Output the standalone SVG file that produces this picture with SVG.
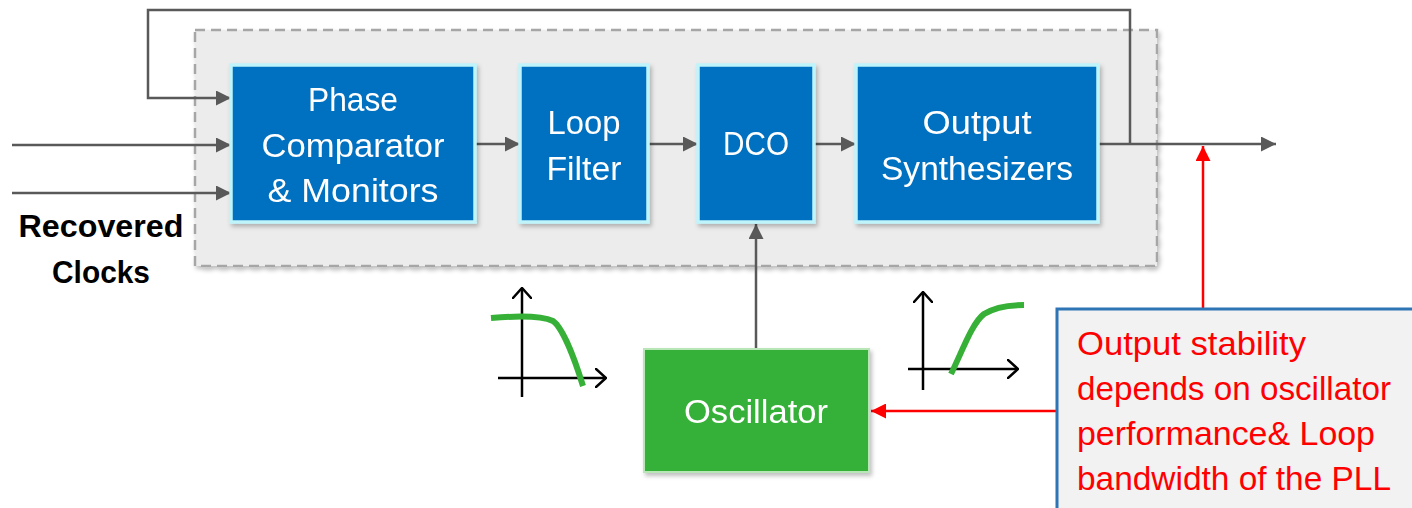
<svg xmlns="http://www.w3.org/2000/svg" width="1412" height="508" viewBox="0 0 1412 508">
  <defs>
    <filter id="shadow" x="-10%" y="-10%" width="120%" height="120%">
      <feDropShadow dx="2" dy="3" stdDeviation="2" flood-color="#000" flood-opacity="0.25"/>
    </filter>
    <marker id="arrGray" viewBox="0 0 15 15" refX="15" refY="7.5" markerWidth="15" markerHeight="15" markerUnits="userSpaceOnUse" orient="auto">
      <path d="M0,0 L15,7.5 L0,15 Z" fill="#595959"/>
    </marker>
    <marker id="arrRed" viewBox="0 0 15 15" refX="15" refY="7.5" markerWidth="15" markerHeight="15" markerUnits="userSpaceOnUse" orient="auto">
      <path d="M0,0 L15,7.5 L0,15 Z" fill="#ff0000"/>
    </marker>
    <marker id="arrOpen" viewBox="0 0 12 20" refX="11" refY="10" markerWidth="12" markerHeight="20" markerUnits="userSpaceOnUse" orient="auto">
      <path d="M0,0 L11,10 L0,20" fill="none" stroke="#000" stroke-width="2.5"/>
    </marker>
  </defs>
  <style>
    .block { fill: #0070c0; stroke: #bff4fb; stroke-width: 3.5; }
    .osc { fill: #36b037; stroke: #b9e6b7; stroke-width: 2; }
    .lbl { font-family: "Liberation Sans", Arial, sans-serif; font-size: 34px; fill: #ffffff; text-anchor: middle; }
    .wire { fill: none; stroke: #595959; stroke-width: 2.5; }
    .redwire { fill: none; stroke: #ff0000; stroke-width: 2.5; }
    .axis { fill: none; stroke: #000; stroke-width: 2.5; }
    .curve { fill: none; stroke: #36b037; stroke-width: 6; }
    .note { font-family: "Liberation Sans", Arial, sans-serif; font-size: 33px; fill: #ff0000; }
    .cap { font-family: "Liberation Sans", Arial, sans-serif; font-size: 31px; font-weight: bold; fill: #000; text-anchor: middle; }
  </style>

  <!-- PLL enclosure -->
  <rect id="pll" x="195" y="30" width="962" height="236" fill="#ececec" stroke="#a6a6a6" stroke-width="2.5" stroke-dasharray="10,6" filter="url(#shadow)"/>

  <!-- connectors -->
  <g id="connectors">
    <polyline class="wire" points="1130,144 1130,10 148,10 148,98 231,98" marker-end="url(#arrGray)"/>
    <line class="wire" x1="12" y1="145" x2="231" y2="145" marker-end="url(#arrGray)"/>
    <line class="wire" x1="12" y1="193" x2="231" y2="193" marker-end="url(#arrGray)"/>
    <line class="wire" x1="475" y1="144" x2="520" y2="144" marker-end="url(#arrGray)"/>
    <line class="wire" x1="648" y1="144" x2="698" y2="144" marker-end="url(#arrGray)"/>
    <line class="wire" x1="814" y1="144" x2="856" y2="144" marker-end="url(#arrGray)"/>
    <line class="wire" x1="1098" y1="144" x2="1276" y2="144" marker-end="url(#arrGray)"/>
    <line class="wire" x1="756" y1="349" x2="756" y2="224" marker-end="url(#arrGray)"/>
    <line class="redwire" x1="1203" y1="309" x2="1203" y2="146" marker-end="url(#arrRed)"/>
    <line class="redwire" x1="1056" y1="411" x2="871" y2="411" marker-end="url(#arrRed)"/>
  </g>

  <g id="phase-comparator" filter="url(#shadow)">
    <rect class="block" x="231" y="65" width="244" height="157"/>
    <text class="lbl" x="353" y="111" textLength="90" lengthAdjust="spacingAndGlyphs">Phase</text>
    <text class="lbl" x="353" y="157" textLength="183" lengthAdjust="spacingAndGlyphs">Comparator</text>
    <text class="lbl" x="353" y="202" textLength="171" lengthAdjust="spacingAndGlyphs">&amp; Monitors</text>
  </g>

  <g id="loop-filter" filter="url(#shadow)">
    <rect class="block" x="520" y="65" width="128" height="157"/>
    <text class="lbl" x="584" y="134" textLength="73" lengthAdjust="spacingAndGlyphs">Loop</text>
    <text class="lbl" x="584" y="180" textLength="75" lengthAdjust="spacingAndGlyphs">Filter</text>
  </g>

  <g id="dco" filter="url(#shadow)">
    <rect class="block" x="698" y="65" width="116" height="157"/>
    <text class="lbl" x="756" y="155" textLength="66" lengthAdjust="spacingAndGlyphs">DCO</text>
  </g>

  <g id="output-synthesizers" filter="url(#shadow)">
    <rect class="block" x="856" y="65" width="242" height="157"/>
    <text class="lbl" x="977" y="134" textLength="109" lengthAdjust="spacingAndGlyphs">Output</text>
    <text class="lbl" x="977" y="180" textLength="192" lengthAdjust="spacingAndGlyphs">Synthesizers</text>
  </g>

  <g id="oscillator" filter="url(#shadow)">
    <rect class="osc" x="644" y="349" width="225" height="123"/>
    <text class="lbl" x="756" y="423" textLength="144" lengthAdjust="spacingAndGlyphs">Oscillator</text>
  </g>

  <g id="recovered-clocks">
    <text class="cap" x="101" y="237" textLength="165" lengthAdjust="spacingAndGlyphs">Recovered</text>
    <text class="cap" x="101" y="283" textLength="98" lengthAdjust="spacingAndGlyphs">Clocks</text>
  </g>

  <!-- low-pass response sketch -->
  <g id="lowpass-plot">
    <line class="axis" x1="522" y1="397" x2="522" y2="288" marker-end="url(#arrOpen)"/>
    <line class="axis" x1="498" y1="378" x2="606" y2="378" marker-end="url(#arrOpen)"/>
    <path class="curve" d="M491,318 C515,316 540,315 553,321 C563,328 575,360 583,386"/>
  </g>

  <!-- high-pass response sketch -->
  <g id="highpass-plot">
    <line class="axis" x1="923" y1="390" x2="923" y2="292" marker-end="url(#arrOpen)"/>
    <line class="axis" x1="908" y1="369" x2="1018" y2="369" marker-end="url(#arrOpen)"/>
    <path class="curve" d="M951,374 C962,352 972,323 984,314 C995,307 1010,305 1024,305"/>
  </g>

  <g id="note">
    <rect x="1057" y="309" width="360" height="210" fill="#f2f2f2" stroke="#2e75b6" stroke-width="3"/>
    <text class="note" x="1077" y="355" textLength="229" lengthAdjust="spacingAndGlyphs">Output stability</text>
    <text class="note" x="1077" y="400" textLength="314" lengthAdjust="spacingAndGlyphs">depends on oscillator</text>
    <text class="note" x="1077" y="445" textLength="298" lengthAdjust="spacingAndGlyphs">performance&amp; Loop</text>
    <text class="note" x="1077" y="490" textLength="314" lengthAdjust="spacingAndGlyphs">bandwidth of the PLL</text>
  </g>
</svg>
